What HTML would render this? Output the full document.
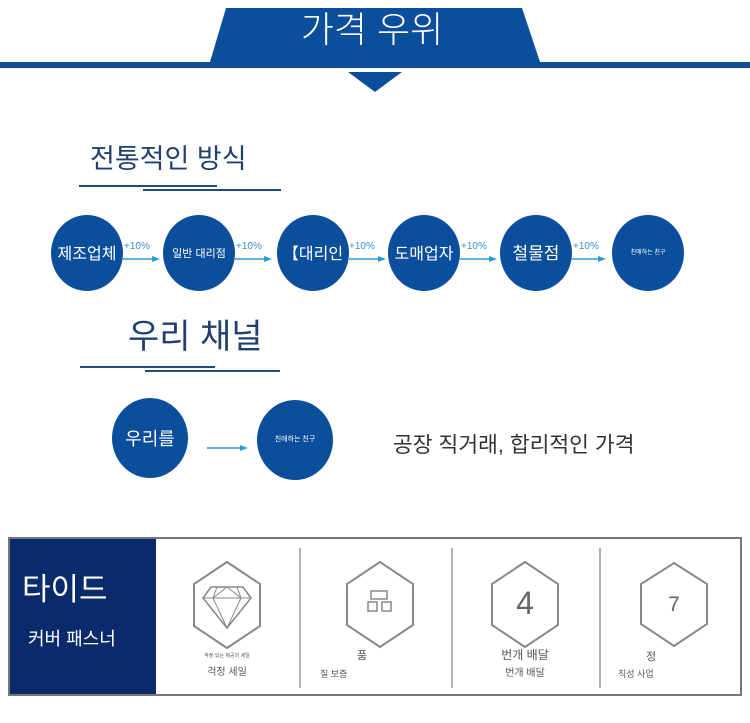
<!DOCTYPE html>
<html><head><meta charset="utf-8"><style>
body{margin:0;background:#fff;}
svg{display:block;font-family:"Liberation Sans","Noto Sans CJK KR",sans-serif;}
</style></head><body>
<svg width="750" height="723" viewBox="0 0 750 723">
<rect width="750" height="723" fill="#fff"/>
<polygon points="226,8 522,8 540,62 210,62" fill="#0b4f9c"/>
<rect x="0" y="62" width="750" height="6" fill="#0b4f9c"/>
<polygon points="348,72 402,72 375,92" fill="#0b4f9c"/>
<text x="372" y="42" font-size="36" fill="#fff" text-anchor="middle" font-weight="300">가격 우위</text>

<text x="90" y="168" font-size="27" fill="#22406e">전통적인 방식</text>
<rect x="79" y="185" width="138" height="2" fill="#1f4e7e"/>
<rect x="143" y="189" width="138" height="2" fill="#1f4e7e"/>

<g fill="#0b4f9c">
<ellipse cx="87" cy="253" rx="36" ry="38"/>
<ellipse cx="199" cy="253" rx="36" ry="38"/>
<ellipse cx="313" cy="253" rx="36" ry="38"/>
<ellipse cx="424" cy="253" rx="36" ry="38"/>
<ellipse cx="536" cy="253" rx="36" ry="38"/>
<ellipse cx="648" cy="253" rx="36" ry="38"/>
</g>
<g fill="#fff" text-anchor="middle">
<text x="87" y="259" font-size="16">제조업체</text>
<text x="199" y="257" font-size="11">일반 대리점</text>
<text x="313" y="259" font-size="16">【대리인</text>
<text x="424" y="259" font-size="16">도매업자</text>
<text x="536" y="259" font-size="17">철물점</text>
<text x="648" y="254" font-size="6">친애하는 친구</text>
</g>
<g stroke="#2a9bd8" stroke-width="1.5" fill="#2a9bd8">
<line x1="123" y1="259" x2="158" y2="259"/><polygon points="160,259 152,256 152,262" stroke="none"/>
<line x1="235" y1="259" x2="270" y2="259"/><polygon points="272,259 264,256 264,262" stroke="none"/>
<line x1="349" y1="259" x2="384" y2="259"/><polygon points="386,259 378,256 378,262" stroke="none"/>
<line x1="460" y1="259" x2="495" y2="259"/><polygon points="497,259 489,256 489,262" stroke="none"/>
<line x1="572" y1="259" x2="604" y2="259"/><polygon points="606,259 598,256 598,262" stroke="none"/>
</g>
<g fill="#3a8fd0" font-size="10">
<text x="124" y="249">+10%</text><text x="236" y="249">+10%</text><text x="349" y="249">+10%</text><text x="461" y="249">+10%</text><text x="573" y="249">+10%</text>
</g>

<text x="128" y="348" font-size="34" fill="#22406e">우리 채널</text>
<rect x="80" y="366" width="135" height="2" fill="#1f4e7e"/>
<rect x="145" y="370" width="135" height="2" fill="#1f4e7e"/>

<ellipse cx="150" cy="438" rx="38" ry="40" fill="#0b4f9c"/>
<ellipse cx="295" cy="440" rx="38" ry="40" fill="#0b4f9c"/>
<text x="150" y="445" font-size="18" fill="#fff" text-anchor="middle">우리를</text>
<text x="295" y="441" font-size="7" fill="#fff" text-anchor="middle">친애하는 친구</text>
<line x1="207" y1="448" x2="244" y2="448" stroke="#2a9bd8" stroke-width="1.5"/>
<polygon points="248,448 240,445 240,451" fill="#2a9bd8"/>
<text x="393" y="452" font-size="21.5" fill="#333">공장 직거래, 합리적인 가격</text>

<rect x="9" y="538" width="732" height="157" fill="#fff" stroke="#777" stroke-width="2"/>
<rect x="10" y="539" width="146" height="155" fill="#0a2a6b"/>
<text x="22" y="600" font-size="31" fill="#fff">타이드</text>
<text x="28" y="645" font-size="18" fill="#fff">커버 패스너</text>
<g stroke="#666" stroke-width="1">
<line x1="300" y1="548" x2="300" y2="688"/>
<line x1="452" y1="548" x2="452" y2="688"/>
<line x1="600" y1="548" x2="600" y2="688"/>
</g>
<g fill="none" stroke="#888" stroke-width="2">
<polygon points="227,562 260,584 260,626 227,648 194,626 194,584"/>
<polygon points="380,562 413,584 413,625 380,647 347,625 347,584"/>
<polygon points="525,562 558,584 558,625 525,647 492,625 492,584"/>
<polygon points="674,563 707,584 707,624 674,646 641,624 641,584"/>
<polygon points="203,598 211,587 243,587 251,598 227,628" stroke-width="1.5"/>
<path d="M203,598 H251 M217,587 L213,598 L227,628 L241,598 L237,587 M227,587 L213,598 M227,587 L241,598" stroke-width="1"/>
<rect x="371" y="591" width="16" height="8" stroke-width="1.5"/>
<rect x="368" y="602" width="9" height="9" stroke-width="1.5"/>
<rect x="382" y="602" width="9" height="9" stroke-width="1.5"/>
</g>
<text x="525" y="614" font-size="32" fill="#666" text-anchor="middle">4</text>
<text x="674" y="611" font-size="21" fill="#666" text-anchor="middle">7</text>
<g fill="#555">
<text x="227" y="657" font-size="5" text-anchor="middle">작정 있는 제공의 세일</text>
<text x="227" y="675" font-size="10" text-anchor="middle">걱정 세일</text>
<text x="357" y="659" font-size="11">품</text>
<text x="320" y="677" font-size="9">질 보증</text>
<text x="525" y="659" font-size="12" text-anchor="middle">번개 배달</text>
<text x="525" y="676" font-size="10" text-anchor="middle">번개 배달</text>
<text x="646" y="660" font-size="11">정</text>
<text x="618" y="677" font-size="9">직성 사업</text>
</g>
</svg>
</body></html>
